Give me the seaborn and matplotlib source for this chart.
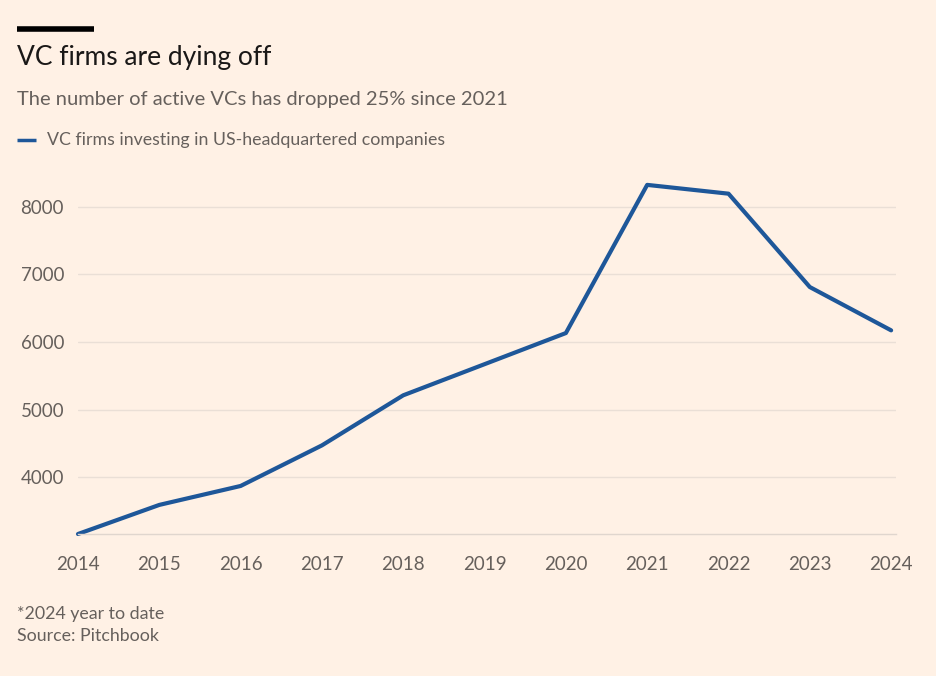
import pandas as pd
import matplotlib
matplotlib.use("Agg")
import matplotlib.pyplot as plt
import seaborn as sns

# data
years = [2014, 2015, 2016, 2017, 2018, 2019, 2020, 2021, 2022, 2023, 2024]
vc_firms = [3160, 3590, 3870, 4470, 5210, 5670, 6130, 8320, 8190, 6810, 6170]
y_ticks = [4000, 5000, 6000, 7000, 8000]

df = pd.DataFrame({"year": years, "firms": vc_firms})

bg = "#FFF1E5"
line_col = "#1E5799"
grey = "#66605C"

sns.set_theme(style="white")
plt.rcParams["font.family"] = ["Lato", "DejaVu Sans"]

fig = plt.figure(figsize=(9.36, 6.76), dpi=100, facecolor=bg)
ax = fig.add_axes([78 / 936, 1 - 534 / 676, (896 - 78) / 936, (534 - 170) / 676])
ax.set_facecolor(bg)

sns.lineplot(data=df, x="year", y="firms", ax=ax, color=line_col, linewidth=3,
             clip_on=False)

ax.set_xlim(2014, 2024.06)
ax.set_ylim(3160, 8540)
ax.set_xticks(years)
ax.set_xticklabels([str(y) for y in years])
ax.set_yticks(y_ticks)
ax.set_xlabel("")
ax.set_ylabel("")

for s in ["top", "right", "left"]:
    ax.spines[s].set_visible(False)
ax.spines["bottom"].set_color("#E0D6CE")
ax.spines["bottom"].set_linewidth(1)
ax.yaxis.grid(True, color="#EADFD6", linewidth=1)
ax.set_axisbelow(True)

ax.tick_params(axis="x", length=14, width=1, color="#E0D6CE", pad=2,
               labelsize=13.5, labelcolor=grey)
ax.tick_params(axis="y", length=0, pad=10, labelsize=13.5, labelcolor=grey)

# header
fig.add_artist(plt.Line2D([17 / 936, 94 / 936], [1 - 29 / 676, 1 - 29 / 676],
                          color="#000000", linewidth=4, solid_capstyle="butt"))
fig.text(17 / 936, 1 - 58 / 676, "VC firms are dying off", fontsize=19,
         color="#1A1817", va="center", ha="left")
fig.text(17 / 936, 1 - 100 / 676, "The number of active VCs has dropped 25% since 2021",
         fontsize=14.5, color=grey, va="center", ha="left")
fig.add_artist(plt.Line2D([17 / 936, 36 / 936], [1 - 140 / 676, 1 - 140 / 676],
                          color=line_col, linewidth=2.5, solid_capstyle="butt"))
fig.text(47 / 936, 1 - 140 / 676, "VC firms investing in US-headquartered companies",
         fontsize=12.8, color=grey, va="center", ha="left")

# footer
fig.text(17 / 936, 1 - 614 / 676, "*2024 year to date", fontsize=12.8, color=grey,
         va="center", ha="left")
fig.text(17 / 936, 1 - 636 / 676, "Source: Pitchbook", fontsize=12.8, color=grey,
         va="center", ha="left")

fig.savefig("out.png", dpi=100, facecolor=bg)
